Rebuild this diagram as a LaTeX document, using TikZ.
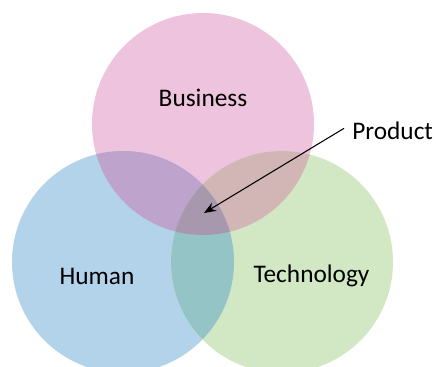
\documentclass[tikz,border=0pt]{standalone}
\usepackage{fontspec}
\setmainfont{Carlito}
\usetikzlibrary{arrows.meta}
\definecolor{cbus}{HTML}{EEC3DD}
\definecolor{chum}{HTML}{B3D3EB}
\definecolor{ctec}{HTML}{D2E7C3}
\definecolor{cbh}{HTML}{BEA4CC}
\definecolor{cht}{HTML}{94C4C6}
\definecolor{cbt}{HTML}{D2B5B5}
\definecolor{call}{HTML}{A898AE}
\tikzset{
  setc/.style={circle, minimum size=166.5pt, inner sep=0pt, draw=none},
  lbl/.style={font=\fontsize{19}{22}\selectfont, text=black, inner sep=0pt},
}
\begin{document}
\begin{tikzpicture}[x=0.75pt,y=-0.75pt]
\useasboundingbox (0,0) rectangle (436,367);
\node[setc, fill=cbus] (bus) at (203,124) {};
\node[setc, fill=chum] (hum) at (123,262) {};
\node[setc, fill=ctec] (tec) at (282,262) {};
% pairwise overlaps
\begin{scope}
  \clip (203,124) circle (83.25pt);
  \fill[cbh] (123,262) circle (83.25pt);
\end{scope}
\begin{scope}
  \clip (203,124) circle (83.25pt);
  \fill[cbt] (282,262) circle (83.25pt);
\end{scope}
\begin{scope}
  \clip (123,262) circle (83.25pt);
  \fill[cht] (282,262) circle (83.25pt);
\end{scope}
\begin{scope}
  \clip (203,124) circle (83.25pt);
  \clip (123,262) circle (83.25pt);
  \fill[call] (282,262) circle (83.25pt);
\end{scope}
\node[lbl] (tbus) at (203,98) {Business};
\node[lbl] (thum) at (97,276) {Human};
\node[lbl] (ttec) at (311.5,276) {Technology};
\node[lbl, anchor=west] (prod) at (352,131) {Product};
\coordinate (core) at (204,213);
\draw[line width=0.8pt, -{Stealth[length=9pt,width=7pt]}] (prod.west) ++(-6pt,2pt) -- (core);
\end{tikzpicture}
\end{document}
